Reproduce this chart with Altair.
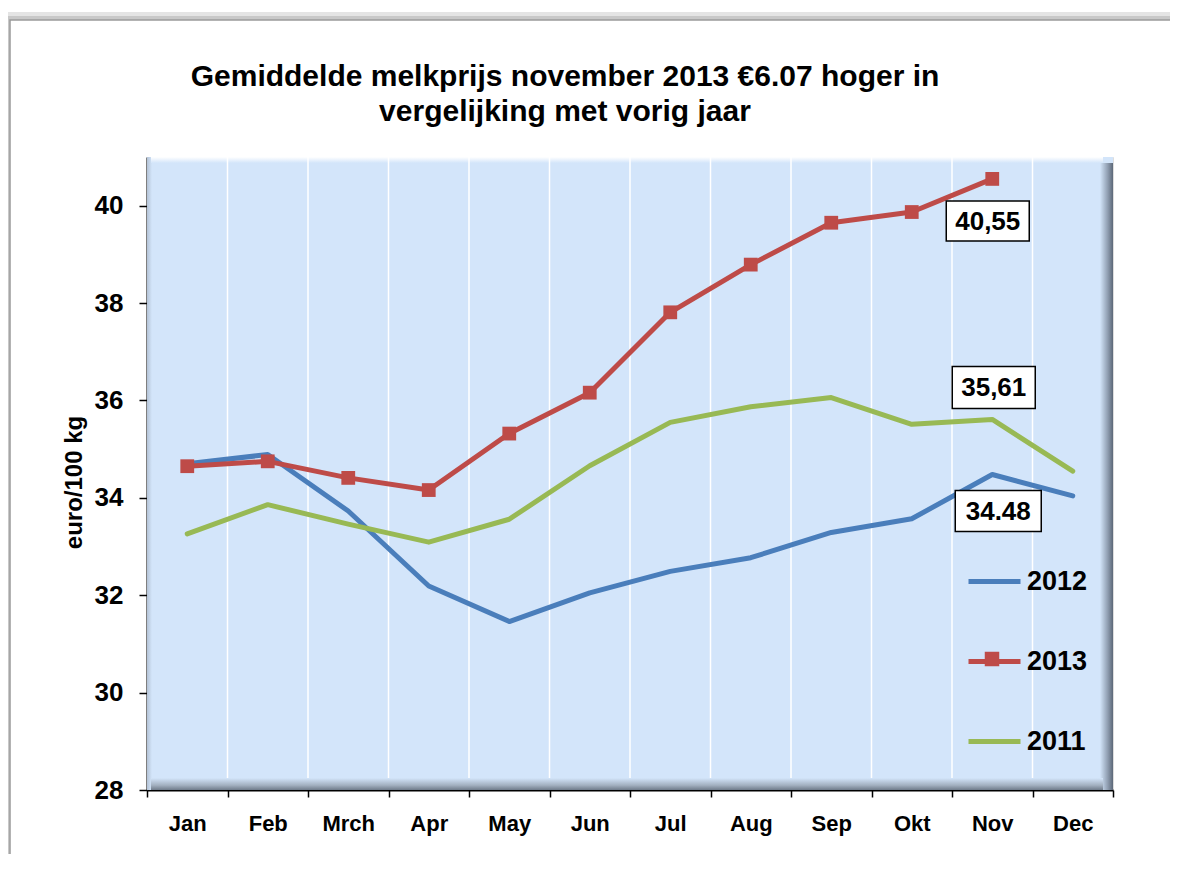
import json
import altair as alt
import pandas as pd

# ---------------- data ----------------
months = ["Jan", "Feb", "Mrch", "Apr", "May", "Jun", "Jul", "Aug", "Sep", "Okt", "Nov", "Dec"]
series_names = ["2012", "2013", "2011"]
series_colors = ["#4a7ebb", "#be4b48", "#98b954"]
v2012 = [34.70, 34.89, 33.73, 32.19, 31.46, 32.05, 32.49, 32.77, 33.29, 33.57, 34.48, 34.04]
v2013 = [34.65, 34.75, 34.41, 34.16, 35.32, 36.16, 37.81, 38.79, 39.65, 39.87, 40.55, None]
v2011 = [33.26, 33.86, 33.46, 33.09, 33.56, 34.66, 35.55, 35.87, 36.06, 35.51, 35.61, 34.55]
y_ticks = [28, 30, 32, 34, 36, 38, 40]
label_series = ["2013", "2011", "2012"]
label_texts = ["40,55", "35,61", "34.48"]
label_month = "Nov"
title_lines = ["Gemiddelde melkprijs november 2013 \u20ac6.07 hoger in", "vergelijking met vorig jaar"]
y_title = "euro/100 kg"

FONT = "Liberation Sans"
W, H = 966, 633

values = {"2012": v2012, "2013": v2013, "2011": v2011}
rows = []
for s in series_names:
    for i, (m, v) in enumerate(zip(months, values[s])):
        if v is not None:
            rows.append({"mi": i, "month": m, "series": s, "value": v})
df = pd.DataFrame(rows)

lab_rows = []
li = months.index(label_month)
for s, t in zip(label_series, label_texts):
    lab_rows.append({"mi": li, "series": s, "value": values[s][li], "text": t})
df_lab = pd.DataFrame(lab_rows)

df_grid = pd.DataFrame({"b": [i + 0.5 for i in range(len(months) - 1)]})
one = pd.DataFrame({"k": [0]})

xscale = alt.Scale(domain=[-0.5, len(months) - 0.5], nice=False, zero=False)
yscale = alt.Scale(domain=[28, 41], nice=False, zero=False)
cscale = alt.Scale(domain=series_names, range=series_colors)

label_expr = "datum.value > %d ? '' : %s[round(datum.value + 0.5)]" % (len(months) - 1, json.dumps(months))

x_axis = alt.Axis(
    values=[i - 0.5 for i in range(len(months) + 1)],
    labelExpr=label_expr, labelOffset=W / len(months) / 2, labelFlush=False,
    labelOverlap=False, labelBound=False,
    grid=False, title=None, tickSize=7, tickColor="black", tickWidth=1.5,
    domainColor="black", domainWidth=2, labelFont=FONT, labelFontSize=22,
    labelFontWeight="bold", labelColor="black", labelPadding=16,
)
y_axis = alt.Axis(
    values=y_ticks, grid=False, title=y_title, tickSize=8, tickColor="black",
    tickWidth=1.5, domainColor="black", domainWidth=2, labelFont=FONT,
    labelFontSize=26, labelFontWeight="bold", labelColor="black", labelPadding=16,
    titleFont=FONT, titleFontSize=24, titleFontWeight="bold", titleColor="black",
    titlePadding=8, titleY=325,
)

# ---------- decorations: frame ----------
def frame(inset, color, width):
    return alt.Chart(one).mark_rect(fill=None, stroke=color, strokeWidth=width).encode(
        x=alt.value(-137 - inset), x2=alt.value(1029 + inset),
        y=alt.value(-137 - inset), y2=alt.value(711 + inset))

frames = frame(4, "#e4e4e4", 8) + frame(2, "#c8c8c8", 4) + frame(0, "#9a9a9a", 1.5)

title = alt.Chart(one).mark_text(
    font=FONT, fontSize=30, fontWeight="bold", color="black", align="center",
    baseline="alphabetic", lineHeight=35
).encode(x=alt.value(418), y=alt.value(-71), text=alt.value(title_lines))

bg = alt.Chart(one).mark_rect(color="#d3e5fa").encode(
    x=alt.value(0), x2=alt.value(W), y=alt.value(0), y2=alt.value(H))

right_strip = alt.Chart(one).mark_rect(
    color=alt.LinearGradient(gradient="linear", x1=0, x2=1, y1=0, y2=0,
                             stops=[alt.GradientStop(color="#d3e5fa", offset=0),
                                    alt.GradientStop(color="#8f9db0", offset=0.6),
                                    alt.GradientStop(color="#5c6878", offset=1)])
).encode(x=alt.value(W - 13), x2=alt.value(W), y=alt.value(6), y2=alt.value(H))

bottom_strip = alt.Chart(one).mark_rect(
    color=alt.LinearGradient(gradient="linear", x1=0, x2=0, y1=0, y2=1,
                             stops=[alt.GradientStop(color="#d3e5fa", offset=0),
                                    alt.GradientStop(color="#a3b0c0", offset=0.6),
                                    alt.GradientStop(color="#6f7b8a", offset=1)])
).encode(x=alt.value(4), x2=alt.value(W - 10), y=alt.value(H - 12), y2=alt.value(H))

top_strip = alt.Chart(one).mark_rect(
    color=alt.LinearGradient(gradient="linear", x1=0, x2=0, y1=0, y2=1,
                             stops=[alt.GradientStop(color="#ffffff", offset=0),
                                    alt.GradientStop(color="#d3e5fa", offset=1)])
).encode(x=alt.value(4), x2=alt.value(W - 10), y=alt.value(0), y2=alt.value(6))

left_strip = alt.Chart(one).mark_rect(
    color=alt.LinearGradient(gradient="linear", x1=0, x2=1, y1=0, y2=0,
                             stops=[alt.GradientStop(color="#b4c3d6", offset=0),
                                    alt.GradientStop(color="#d3e5fa", offset=1)])
).encode(x=alt.value(0), x2=alt.value(5), y=alt.value(0), y2=alt.value(H))

grid = alt.Chart(df_grid).mark_rule(color="white", strokeWidth=1.5).encode(
    x=alt.X("b:Q", scale=xscale, axis=x_axis), y=alt.value(0), y2=alt.value(H))

lines = alt.Chart(df).mark_line(strokeWidth=5, strokeCap="round", strokeJoin="round").encode(
    x=alt.X("mi:Q", scale=xscale, axis=x_axis),
    y=alt.Y("value:Q", scale=yscale, axis=y_axis),
    color=alt.Color("series:N", scale=cscale, legend=alt.Legend(
        orient="none", legendX=819, legendY=396, title=None, direction="vertical",
        symbolType="stroke", symbolSize=2704, symbolStrokeWidth=5,
        labelFont=FONT, labelFontSize=27, labelFontWeight="bold", labelColor="black",
        rowPadding=38, labelOffset=4, padding=0)),
    detail="series:N",
)

pts = alt.Chart(df[df.series == "2013"]).mark_point(
    shape="square", filled=True, size=190, opacity=1, color=series_colors[1]
).encode(x=alt.X("mi:Q", scale=xscale), y=alt.Y("value:Q", scale=yscale))

legend_sq = alt.Chart(one).mark_point(
    shape="square", filled=True, size=210, opacity=1, color=series_colors[1]
).encode(x=alt.value(845), y=alt.value(502))

label_offsets = {"2013": (-46, 37, 22, 62), "2011": (-40, 43, -53, -11), "2012": (-37, 49, 16, 57)}
label_layers = []
for s in label_series:
    dx0, dx1, dy0, dy1 = label_offsets[s]
    d = df_lab[df_lab.series == s]
    box = alt.Chart(d).mark_rect(fill="white", stroke="black", strokeWidth=1.5,
                                 xOffset=dx0, x2Offset=dx1, yOffset=dy0, y2Offset=dy1).encode(
        x=alt.X("mi:Q", scale=xscale), x2="mi:Q",
        y=alt.Y("value:Q", scale=yscale), y2="value:Q")
    txt = alt.Chart(d).mark_text(font=FONT, fontSize=26, fontWeight="bold", color="black",
                                 align="center", baseline="middle",
                                 dx=(dx0 + dx1) / 2, dy=(dy0 + dy1) / 2 + 1).encode(
        x=alt.X("mi:Q", scale=xscale), y=alt.Y("value:Q", scale=yscale), text="text:N")
    label_layers += [box, txt]

chart = alt.layer(
    frames, title, bg, left_strip, top_strip, grid, right_strip, bottom_strip,
    lines, pts, legend_sq, *label_layers
).properties(
    width=W, height=H,
    autosize=alt.AutoSizeParams(type="none"),
    padding={"left": 139, "top": 149, "right": 57, "bottom": 64},
).configure_view(stroke=None).configure(background="white")

chart.save("out.html", embed_options={"renderer": "svg", "actions": False})
